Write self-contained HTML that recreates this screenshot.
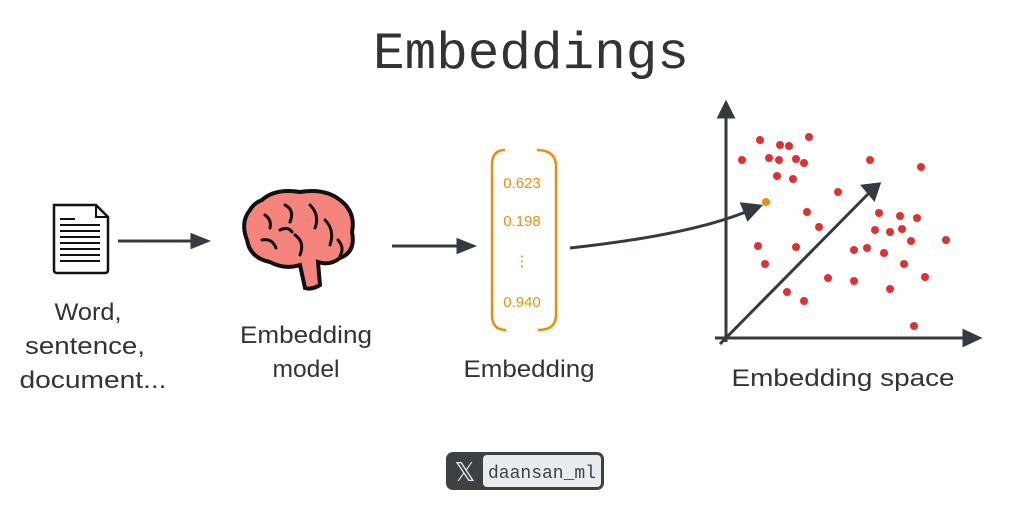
<!DOCTYPE html>
<html><head><meta charset="utf-8"><style>
body{margin:0;width:1033px;height:508px;background:#fff;overflow:hidden;}
svg{position:absolute;left:0;top:0}
.h{font-family:"Liberation Sans","DejaVu Sans",sans-serif;fill:#333;font-size:24px;text-anchor:middle}
.o{font-family:"Liberation Sans",sans-serif;fill:#e8900c;font-size:15px;text-anchor:middle}
</style></head><body>
<svg width="1033" height="508" viewBox="0 0 1033 508">
<text x="531" y="68" text-anchor="middle" font-family="Liberation Mono,monospace" font-size="52" fill="#333" textLength="316" lengthAdjust="spacingAndGlyphs">Embeddings</text>
<!-- document -->
<path d="M54 205 H96 L108 217 V270 Q108 273 105 273 H57 Q54 273 54 270 Z" fill="#fff" stroke="#111" stroke-width="2.5"/>
<path d="M96 205 V217 H108" fill="none" stroke="#111" stroke-width="2"/>
<g stroke="#111" stroke-width="2">
<line x1="60" y1="219" x2="75" y2="219"/><line x1="60" y1="225" x2="100" y2="225"/><line x1="60" y1="231" x2="100" y2="231"/>
<line x1="60" y1="237" x2="100" y2="237"/><line x1="60" y1="243" x2="100" y2="243"/><line x1="60" y1="249" x2="100" y2="249"/>
<line x1="60" y1="255" x2="100" y2="255"/><line x1="60" y1="261" x2="100" y2="261"/></g>
<!-- arrows -->
<g stroke="#343a40" stroke-width="3" fill="#343a40">
<line x1="118" y1="241" x2="195" y2="241"/><path d="M192 235 L207 241 L192 247Z"/>
<line x1="392" y1="246" x2="460" y2="246"/><path d="M458 240 L473 246 L458 252Z"/>
<path d="M570 248 Q690 235 748 211" fill="none"/><path d="M742 204 L760 206 L748 219Z"/>
<line x1="726" y1="342" x2="726" y2="113"/><path d="M719 117 L726 103 L733 117Z"/>
<line x1="715" y1="338" x2="968" y2="338"/><path d="M964 331 L979 338 L964 345Z"/>
<line x1="720" y1="344" x2="870" y2="192"/><path d="M863 186 L879 184 L874 199Z"/>
</g>
<!-- brain -->
<path d="M262 200 Q275 188 300 192 Q325 188 340 200 Q356 212 352 232 Q356 252 340 258 Q330 266 318 262 L320 285 Q312 290 305 288 L300 265 Q285 270 270 262 Q250 258 247 240 Q240 222 250 210 Q254 203 262 200Z" fill="#f5847c" stroke="#111" stroke-width="4"/>
<g stroke="#111" stroke-width="3" fill="none" stroke-linecap="round">
<path d="M265 215 Q272 220 270 228"/><path d="M285 205 Q295 210 290 222"/><path d="M310 205 Q320 215 315 228"/>
<path d="M262 240 Q272 238 276 248"/><path d="M295 235 Q305 242 300 255"/><path d="M325 220 Q335 230 330 245"/>
<path d="M338 240 Q345 248 340 256"/><path d="M280 230 Q288 226 292 232"/>
</g>
<!-- brackets -->
<g stroke="#e8900c" stroke-width="2.5" fill="none">
<path d="M505 150 Q492 150 492 165 V315 Q492 330 506 330"/>
<path d="M537 150 Q555 150 556 165 V315 Q556 330 538 330"/>
</g>
<text class="o" x="522" y="188">0.623</text>
<text class="o" x="522" y="226">0.198</text>
<text class="o" x="522" y="266">⋮</text>
<text class="o" x="522" y="307">0.940</text>
<!-- dots -->
<g fill="#e03131">
<circle cx="760" cy="140" r="4"/><circle cx="780" cy="145" r="4"/><circle cx="789" cy="146" r="4"/><circle cx="809" cy="137" r="4"/>
<circle cx="742" cy="160" r="4"/><circle cx="769" cy="158" r="4"/><circle cx="779" cy="160" r="4"/><circle cx="796" cy="159" r="4"/>
<circle cx="804" cy="163" r="4"/><circle cx="777" cy="176" r="4"/><circle cx="793" cy="179" r="4"/><circle cx="870" cy="160" r="4"/>
<circle cx="921" cy="167" r="4"/><circle cx="838" cy="192" r="4"/><circle cx="807" cy="212" r="4"/><circle cx="819" cy="227" r="4"/>
<circle cx="879" cy="213" r="4"/><circle cx="900" cy="216" r="4"/><circle cx="917" cy="218" r="4"/><circle cx="875" cy="230" r="4"/>
<circle cx="890" cy="232" r="4"/><circle cx="902" cy="229" r="4"/><circle cx="911" cy="241" r="4"/><circle cx="946" cy="240" r="4"/>
<circle cx="758" cy="246" r="4"/><circle cx="796" cy="247" r="4"/><circle cx="854" cy="250" r="4"/><circle cx="867" cy="248" r="4"/>
<circle cx="884" cy="253" r="4"/><circle cx="904" cy="264" r="4"/><circle cx="765" cy="264" r="4"/><circle cx="828" cy="278" r="4"/>
<circle cx="854" cy="281" r="4"/><circle cx="925" cy="277" r="4"/><circle cx="890" cy="289" r="4"/><circle cx="787" cy="292" r="4"/>
<circle cx="804" cy="301" r="4"/><circle cx="914" cy="326" r="4"/>
</g>
<circle cx="766" cy="202" r="4" fill="#f08c00"/>
<!-- labels -->
<text class="h" x="88" y="320" textLength="67" lengthAdjust="spacingAndGlyphs">Word,</text>
<text class="h" x="85" y="354" textLength="120" lengthAdjust="spacingAndGlyphs">sentence,</text>
<text class="h" x="93" y="388" textLength="147" lengthAdjust="spacingAndGlyphs">document...</text>
<text class="h" x="306" y="343" textLength="132" lengthAdjust="spacingAndGlyphs">Embedding</text>
<text class="h" x="306" y="377" textLength="67" lengthAdjust="spacingAndGlyphs">model</text>
<text class="h" x="529" y="377" textLength="131" lengthAdjust="spacingAndGlyphs">Embedding</text>
<text class="h" x="843" y="386" textLength="223" lengthAdjust="spacingAndGlyphs">Embedding space</text>
<!-- badge -->
<rect x="446" y="452" width="158" height="38" rx="7" fill="#3d4145"/>
<rect x="483" y="455" width="118" height="32" rx="4" fill="#e9ecef"/>
<text x="465" y="481" text-anchor="middle" font-family="DejaVu Sans,sans-serif" font-size="26" fill="#e9ecef">𝕏</text>
<text x="542" y="478" text-anchor="middle" font-family="Liberation Mono,monospace" font-size="18" fill="#3d4145">daansan_ml</text>
</svg>
</body></html>
